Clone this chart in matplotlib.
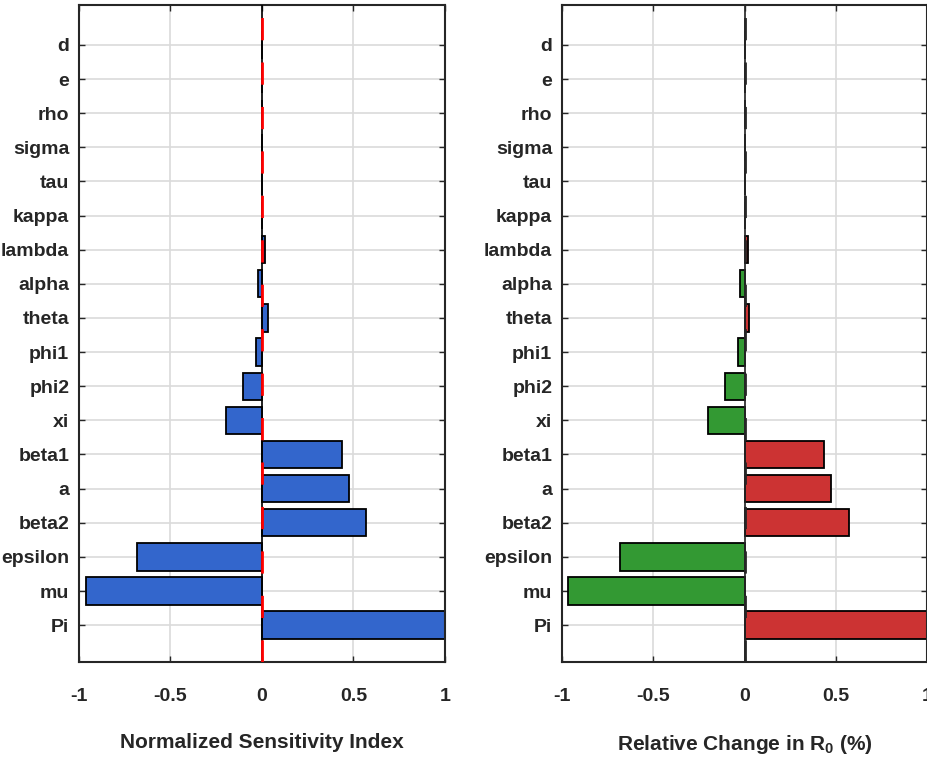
import numpy as np
import matplotlib
matplotlib.use("Agg")
import matplotlib.pyplot as plt
from matplotlib import font_manager

# parameters, top to bottom as they appear on the axis
params = ['d', 'e', 'rho', 'sigma', 'tau', 'kappa', 'lambda', 'alpha', 'theta',
          'phi1', 'phi2', 'xi', 'beta1', 'a', 'beta2', 'epsilon', 'mu', 'Pi']

# normalized sensitivity indices
nsi = [0.0, 0.0, 0.0, 0.0, 0.0, 0.0, 0.018, -0.022, 0.031,
       -0.034, -0.105, -0.197, 0.439, 0.475, 0.570, -0.681, -0.963, 1.0]

# relative change in R0
rel_change = [0.0, 0.0, 0.0, 0.0, 0.0, 0.0, 0.018, -0.026, 0.027,
              -0.036, -0.107, -0.198, 0.437, 0.474, 0.570, -0.683, -0.966, 1.0]

xticks = [-1, -0.5, 0, 0.5, 1]
xticklabels = ['-1', '-0.5', '0', '0.5', '1']

installed = {f.name for f in font_manager.fontManager.ttflist}
family = [f for f in ['Liberation Sans Narrow', 'Liberation Sans'] if f in installed] + ['DejaVu Sans']
plt.rcParams['font.family'] = family
plt.rcParams['font.weight'] = 'bold'
plt.rcParams['mathtext.default'] = 'regular'

TXT = '#262626'
BLUE = '#3366cc'
RED = '#cc3333'
GREEN = '#339933'

fig = plt.figure(figsize=(9.28, 7.67), dpi=100)
ax1 = fig.add_axes([79 / 928, 1 - 662 / 767, 366 / 928, 657 / 767])
ax2 = fig.add_axes([562 / 928, 1 - 662 / 767, 365 / 928, 657 / 767])

n = len(params)
ypos = np.arange(n, 0, -1)


def style(ax, xlabel):
    ax.set_xlim(-1, 1)
    ax.set_ylim(-0.08, n + 1.17)
    ax.set_yticks(ypos)
    ax.set_yticklabels(params)
    ax.set_xticks(xticks)
    ax.set_xticklabels(xticklabels)
    ax.tick_params(direction='in', length=4, width=1, colors=TXT,
                   top=True, right=True, labelsize=14)
    ax.tick_params(axis='x', pad=19)
    ax.tick_params(axis='y', pad=7)
    ax.grid(True, color='#dadada', linewidth=1.2)
    ax.set_axisbelow(True)
    for s in ax.spines.values():
        s.set_color(TXT)
        s.set_linewidth(1.5)
    ax.set_xlabel(xlabel, fontsize=15, fontweight='bold', color=TXT, labelpad=20)


# left panel: sensitivity indices
ax1.barh(ypos, nsi, height=0.8, color=BLUE, edgecolor='black', linewidth=1.3, zorder=2)
ax1.axvline(0, color='black', linewidth=1.2, zorder=3)
ax1.axvline(0, color='red', linewidth=2, dashes=(8, 8), zorder=4)
style(ax1, 'Normalized Sensitivity Index')

# right panel: relative change, coloured by sign
colors = [RED if v > 0 else GREEN for v in rel_change]
ax2.barh(ypos, rel_change, height=0.8, color=colors, edgecolor='black', linewidth=1.3, zorder=2)
ax2.axvline(0, color='#262626', linewidth=1.2, zorder=3)
ax2.axvline(0, color='#262626', linewidth=2, dashes=(8, 8), zorder=4)
style(ax2, r'Relative Change in R$_{0}$ (%)')

fig.savefig('out.png', dpi=100)
